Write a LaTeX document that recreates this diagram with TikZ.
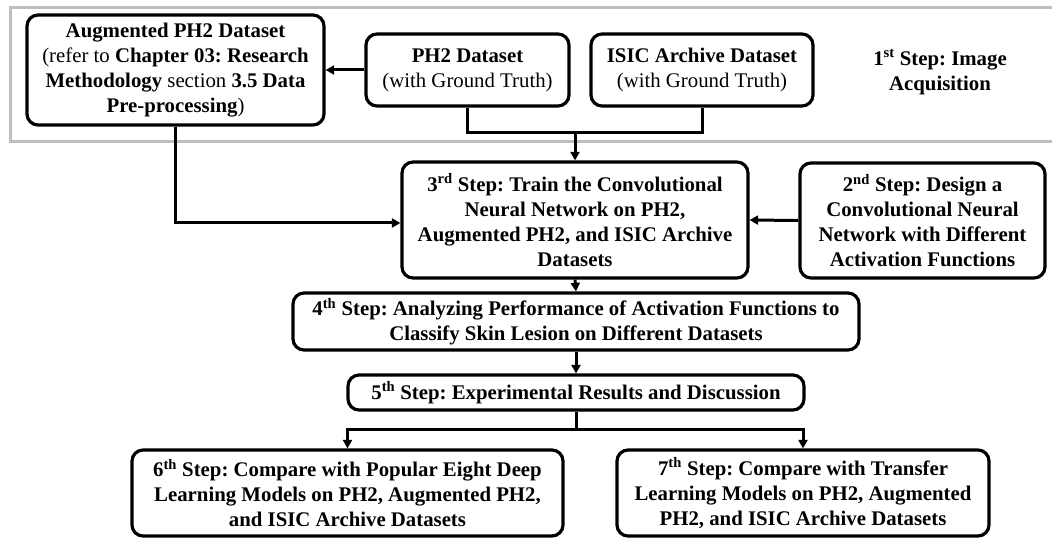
\documentclass[tikz,border=0pt]{standalone}
\usepackage{fontspec}
\setmainfont{Liberation Serif}
\usetikzlibrary{arrows.meta}
\frenchspacing
\begin{document}
\begin{tikzpicture}[x=1pt,y=-1pt,
  txt/.style={font=\bfseries\fontsize{20.8}{25}\selectfont, align=center, inner sep=0pt},
  box/.style={txt, draw=black, line width=3.2pt, rounded corners=11pt},
  link/.style={draw=black, line width=3pt},
  arr/.style={link, -{Triangle[length=8.5pt,width=9pt]}},
  frame/.style={draw=black!25, line width=3pt}]
\useasboundingbox (0,0) rectangle (1052,540);

% group frame around the data sources
\draw[frame] (1060,8) -- (10,8) -- (10,142) -- (1060,142);

% data sources
\node[box, font=\fontsize{20.8}{25}\selectfont, minimum width=297pt, minimum height=110pt] (aug) at (175.5,70)
  {\textbf{Augmented PH2 Dataset}\\(refer to \textbf{Chapter 03: Research}\\
   \textbf{Methodology} section \textbf{3.5 Data}\\\textbf{Pre-processing})};
\node[box, font=\fontsize{20.8}{25}\selectfont, minimum width=203pt, minimum height=72pt] (ph2) at (467.5,70)
  {\textbf{PH2 Dataset}\\(with Ground Truth)};
\node[box, font=\fontsize{20.8}{25}\selectfont, minimum width=222pt, minimum height=72pt] (isic) at (702,70)
  {\textbf{ISIC Archive Dataset}\\(with Ground Truth)};
\node[txt] (s1) at (940,72)
  {1\textsuperscript{st} Step: Image\\Acquisition};

% processing steps
\node[box, minimum width=346pt, minimum height=116pt] (s3) at (575,220)
  {3\textsuperscript{rd} Step: Train the Convolutional\\Neural Network on PH2,\\
   Augmented PH2, and ISIC Archive\\Datasets};
\node[box, minimum width=245pt, minimum height=115pt] (s2) at (922.5,220.5)
  {2\textsuperscript{nd} Step: Design a\\Convolutional Neural\\Network with Different\\Activation Functions};
\node[box, minimum width=566pt, minimum height=57pt] (s4) at (576,321.5)
  {4\textsuperscript{th} Step: Analyzing Performance of Activation Functions to\\
   Classify Skin Lesion on Different Datasets};
\node[box, minimum width=456pt, minimum height=35pt] (s5) at (576,392.5)
  {5\textsuperscript{th} Step: Experimental Results and Discussion};
\node[box, minimum width=431pt, minimum height=86pt] (s6) at (347.5,493)
  {6\textsuperscript{th} Step: Compare with Popular Eight Deep\\
   Learning Models on PH2, Augmented PH2,\\and ISIC Archive Datasets};
\node[box, minimum width=372pt, minimum height=86pt] (s7) at (803,493)
  {7\textsuperscript{th} Step: Compare with Transfer\\
   Learning Models on PH2, Augmented\\PH2, and ISIC Archive Datasets};

% junction points
\coordinate (merge) at (575,133);
\coordinate (split) at (576,429);

% connectors
\draw[arr] (ph2.west) -- (aug.east);
\draw[link] (ph2.south) |- (merge) -| (isic.south);
\draw[arr] (merge) -- (s3.north);
\draw[arr] (aug.south) |- ([yshift=-3pt]s3.west);
\draw[arr] (s2.west) -- (s3.east);
\draw[arr] (s3.south) -- (s4.north);
\draw[arr] (s4.south) -- (s5.north);
\draw[link] (s5.south) -- (split);
\draw[arr] (split) -| (s6.north);
\draw[arr] (split) -| (s7.north);
\end{tikzpicture}
\end{document}
